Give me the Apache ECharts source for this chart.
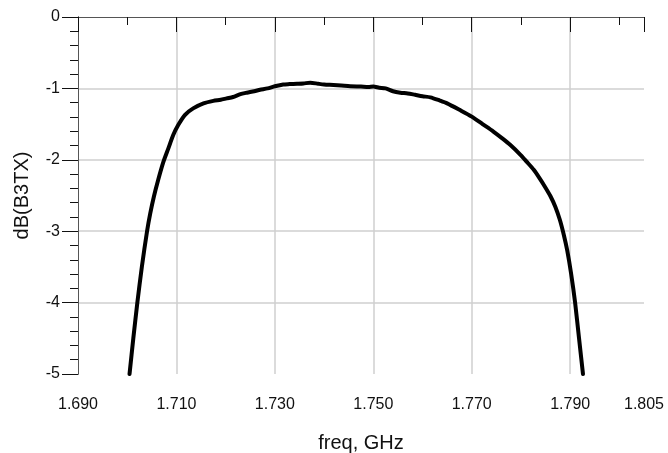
<!DOCTYPE html>
<html>
<head>
<meta charset="utf-8">
<title>dB(B3TX) vs freq</title>
<script src="https://cdn.jsdelivr.net/npm/echarts@6/dist/echarts.min.js"></script>
<style>
  html, body { margin: 0; padding: 0; background: #fff; }
  #chart { width: 668px; height: 453px; }
</style>
</head>
<body>
<div id="chart"></div>
<script>
// Filter passband response: frequency (GHz) and transmission (dB)
const freqGHz = [
  1.70047, 1.70124, 1.70206, 1.70297, 1.70403, 1.70468, 1.70540, 1.70630, 1.70730, 1.70836,
  1.70937, 1.71039, 1.71175, 1.7134, 1.7155, 1.7175, 1.7190, 1.7202, 1.7215, 1.7230,
  1.7243, 1.7258, 1.7270, 1.7285, 1.7300, 1.7317, 1.7330, 1.7345, 1.7358, 1.7372,
  1.7388, 1.7400, 1.7419, 1.7435, 1.7453, 1.7475, 1.7490, 1.7500, 1.7512, 1.7525,
  1.7540, 1.7555, 1.7570, 1.7585, 1.7600, 1.7616, 1.7635, 1.7650, 1.7675, 1.7700,
  1.7722, 1.7744, 1.7762, 1.7778, 1.7799, 1.7812, 1.7826, 1.7838, 1.7849, 1.7860,
  1.7870, 1.7879, 1.7887, 1.7894, 1.7902, 1.7910, 1.7918, 1.7926
];
const gainDb = [
  -5.00, -4.50, -4.00, -3.50, -3.00, -2.75, -2.52, -2.28, -2.04, -1.84,
  -1.65, -1.51, -1.37, -1.28, -1.21, -1.175, -1.16, -1.14, -1.12, -1.08,
  -1.06, -1.04, -1.02, -1.00, -0.97, -0.945, -0.94, -0.935, -0.93, -0.92,
  -0.935, -0.945, -0.952, -0.96, -0.97, -0.975, -0.98, -0.975, -0.99, -1.00,
  -1.04, -1.06, -1.07, -1.09, -1.11, -1.125, -1.17, -1.21, -1.30, -1.395,
  -1.50, -1.605, -1.70, -1.79, -1.93, -2.03, -2.14, -2.26, -2.38, -2.51,
  -2.66, -2.84, -3.05, -3.27, -3.60, -4.00, -4.50, -5.00
];

// Axis ranges and tick labels
const xMinGHz = 1.690;
const xMaxGHz = 1.805;
const xTickLabels = ['1.690', '1.710', '1.730', '1.750', '1.770', '1.790', '1.805'];
const yTickLabels = ['-5', '-4', '-3', '-2', '-1', '0'];

const FONT = '"Liberation Sans", Arial, Helvetica, sans-serif';
const INK = '#111';
const GRID = '#cfcfcf';
const BORDER = '#555';

const chart = echarts.init(document.getElementById('chart'), null, { renderer: 'canvas' });

// Labelled axis expressed as MHz offset from the start frequency, so the
// labelled ticks (every 20 MHz plus the end value) start exactly at min.
const spanMHz = Math.round((xMaxGHz - xMinGHz) * 1000);
const labelFor = v => {
  const s = ((xMinGHz * 1000 + v) / 1000).toFixed(3);
  return xTickLabels.indexOf(s) >= 0 ? s : '';
};

chart.setOption({
  animation: false,
  backgroundColor: '#fff',
  grid: {
    left: 78, right: 24, top: 17, bottom: 79,
    containLabel: false, outerBoundsMode: 'none'
  },
  xAxis: [
    {
      // data axis, short ticks every 10 MHz
      type: 'value', position: 'bottom',
      min: xMinGHz, max: xMaxGHz, interval: 0.01,
      axisLine: { show: true, lineStyle: { color: INK, width: 1 } },
      axisTick: { show: true, inside: false, length: 8, lineStyle: { color: INK, width: 1 } },
      axisLabel: { show: false },
      splitLine: { show: false }
    },
    {
      // labelled axis, long ticks and vertical grid lines
      type: 'value', position: 'bottom',
      min: 0, max: spanMHz, interval: 20,
      axisLine: { show: true, lineStyle: { color: INK, width: 1 } },
      axisTick: { show: true, inside: false, length: 15, lineStyle: { color: INK, width: 1 } },
      axisLabel: {
        show: true, margin: 23, formatter: labelFor,
        fontFamily: FONT, fontSize: 16, color: INK
      },
      splitLine: { show: true, showMinLine: false, showMaxLine: false, lineStyle: { color: GRID, width: 1.5 } },
      name: 'freq, GHz', nameLocation: 'middle', nameGap: 59,
      nameTextStyle: { fontFamily: FONT, fontSize: 20, color: INK }
    },
    {
      // top frame edge
      type: 'value', position: 'top',
      min: 0, max: spanMHz,
      axisLine: { show: true, lineStyle: { color: BORDER, width: 1 } },
      axisTick: { show: false }, axisLabel: { show: false }, splitLine: { show: false }
    }
  ],
  yAxis: [
    {
      type: 'value', position: 'left',
      min: -5, max: 0, interval: 1,
      axisLine: { show: true, lineStyle: { color: INK, width: 1 } },
      axisTick: { show: true, inside: false, length: 16, lineStyle: { color: INK, width: 1 } },
      minorTick: { show: true, splitNumber: 5, length: 8, lineStyle: { color: INK, width: 1 } },
      axisLabel: {
        show: true, margin: 18,
        formatter: v => yTickLabels[Math.round(v) + 5],
        fontFamily: FONT, fontSize: 16, color: INK
      },
      splitLine: { show: true, showMinLine: false, showMaxLine: false, lineStyle: { color: GRID, width: 1.5 } },
      name: 'dB(B3TX)', nameLocation: 'middle', nameGap: 46,
      nameTextStyle: { fontFamily: FONT, fontSize: 20, color: INK }
    },
    {
      // right frame edge
      type: 'value', position: 'right',
      min: -5, max: 0,
      axisLine: { show: true, lineStyle: { color: BORDER, width: 1 } },
      axisTick: { show: false }, axisLabel: { show: false }, splitLine: { show: false }
    }
  ],
  series: [
    {
      type: 'line',
      xAxisIndex: 0, yAxisIndex: 0,
      data: freqGHz.map((f, i) => [f, gainDb[i]]),
      showSymbol: false,
      smooth: 0.25,
      clip: true,
      lineStyle: { color: '#000', width: 4, cap: 'round', join: 'round' },
      z: 5
    }
  ]
});
</script>
</body>
</html>
